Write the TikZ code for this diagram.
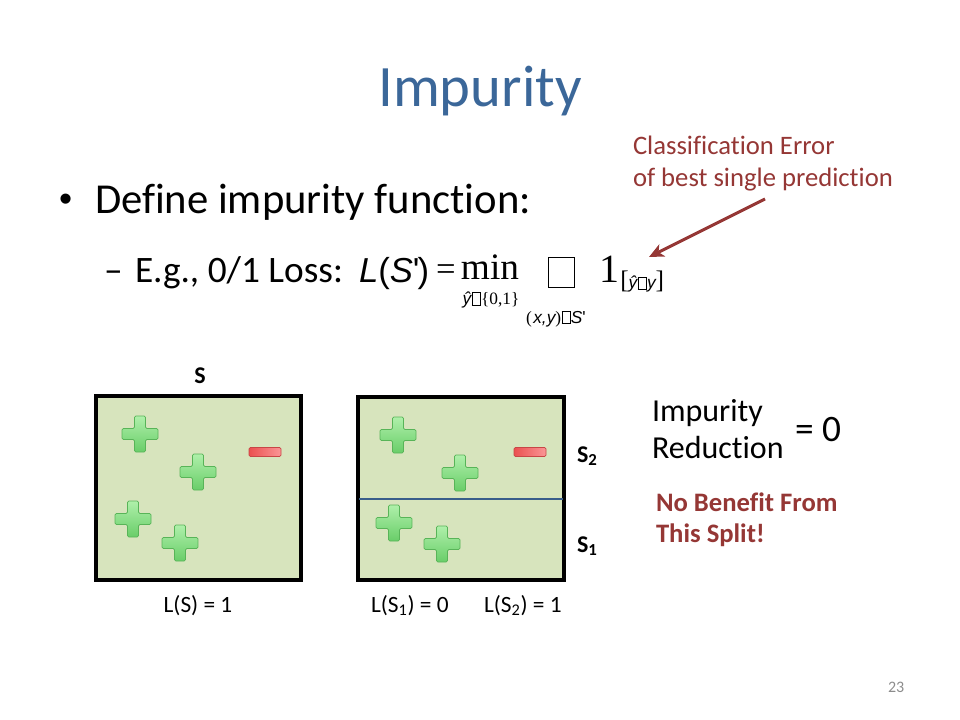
\documentclass[tikz,border=0pt]{standalone}
\usepackage{fontspec}
\setmainfont{Carlito}[Ligatures=NoCommon]
\newfontfamily\arialf{Liberation Sans}
\newfontfamily\timesf{Liberation Serif}
\usetikzlibrary{arrows.meta}
\newcommand\gbox{{\setlength\fboxsep{0pt}\setlength\fboxrule{0.4pt}\kern0.3pt\fbox{\rule{0pt}{0.68em}\hspace{0.45em}}\kern0.3pt}}
\definecolor{titleblue}{RGB}{59,103,153}
\definecolor{darkred}{RGB}{149,55,53}
\definecolor{boxfill}{RGB}{215,228,189}
\definecolor{splitblue}{RGB}{56,93,138}
\definecolor{plusedge}{RGB}{88,180,88}
\definecolor{pluslight}{RGB}{175,240,170}
\definecolor{plusdark}{RGB}{105,205,105}
\definecolor{minusedge}{RGB}{200,70,70}
\definecolor{minuslight}{RGB}{250,150,150}
\definecolor{minusdark}{RGB}{235,80,80}
\tikzset{
  txt/.style={inner sep=0pt, outer sep=0pt, anchor=base west},
  ctxt/.style={inner sep=0pt, outer sep=0pt, anchor=base},
  panel/.style={draw=black, line width=2.3pt, fill=boxfill},
  pluspic/.pic={
    \path[draw=plusedge, line width=0.6pt, top color=pluslight, bottom color=plusdark, rounded corners=1pt]
      (-5.5,-18) -- (5.5,-18) -- (5.5,-5.5) -- (18,-5.5) -- (18,5.5) -- (5.5,5.5) -- (5.5,18)
      -- (-5.5,18) -- (-5.5,5.5) -- (-18,5.5) -- (-18,-5.5) -- (-5.5,-5.5) -- cycle;
  },
  minuspic/.pic={
    \path[draw=minusedge, line width=0.6pt, left color=minusdark, right color=minuslight, rounded corners=1pt]
      (-16,-4.5) rectangle (16,4.5);
  }
}
\begin{document}
\begin{tikzpicture}[x=0.75pt,y=-0.75pt]
\useasboundingbox (0,0) rectangle (960,720);
% title
\node[ctxt, text=titleblue, font=\fontsize{44}{50}\selectfont] (title) at (480,107) {Impurity};
% bullets
\node[txt, font=\fontsize{28}{34}\selectfont] (bul) at (59,212) {\arialf •};
\node[txt, font=\fontsize{32}{38}\selectfont] (define) at (95,214) {Define impurity function:};
\node[txt, font=\fontsize{28}{34}\selectfont] (dash) at (104,282) {–};
\node[txt, font=\fontsize{28}{34}\selectfont] (eg) at (135,282) {E.g., 0/1 Loss:};
% formula
\node[txt, font=\fontsize{26}{30}\selectfont] (lhs) at (359,282)
  {\arialf\itshape L\upshape(\itshape S\upshape'\kern-1.5pt)};
\node[txt, font=\fontsize{26}{30}\selectfont] (eqs) at (436,281) {\timesf =};
\node[ctxt, font=\fontsize{28}{30}\selectfont] (min) at (490,280) {\timesf min};
\node[inner sep=0pt, font=\fontsize{13}{14}\selectfont] (minsub) at (491,300)
  {\arialf\itshape ŷ\upshape\gbox\timesf\{0,1\}};
\node[draw, line width=0.6pt, minimum width=20pt, minimum height=23pt, inner sep=0pt] (sumbox) at (561.5,272.5) {};
\node[inner sep=0pt, font=\fontsize{13}{14}\selectfont] (sumsub) at (556,319)
  {\timesf(\kern1pt\arialf\itshape x,y\upshape\timesf)\gbox\arialf\itshape S\upshape'};
\node[txt, font=\fontsize{30}{32}\selectfont] (one) at (599,282) {\timesf 1};
\node[inner sep=0pt, anchor=west, font=\fontsize{13}{16}\selectfont] (onesub) at (620,282)
  {{\timesf\fontsize{19}{20}\selectfont[}\arialf\itshape ŷ\upshape\gbox\itshape y\upshape{\timesf\fontsize{19}{20}\selectfont]}};
% annotation
\node[txt, text=darkred, font=\fontsize{20}{24}\selectfont] (ce1) at (633,155) {Classification Error};
\node[txt, text=darkred, font=\fontsize{20}{24}\selectfont] (ce2) at (633,187) {of best single prediction};
\coordinate (arrS) at (765,199);
\coordinate (arrE) at (649,257);
\draw[darkred, line width=2.3pt, -{Stealth[length=11pt,width=10pt,inset=3pt]}] (arrS) -- (arrE);
% left panel
\node[ctxt, font=\fontsize{18}{20}\selectfont\bfseries] (slab) at (200,383) {S};
\path[panel] (96,396) rectangle (301,580);
\pic at (140,434) {pluspic};
\pic at (198,472) {pluspic};
\pic at (133,519) {pluspic};
\pic at (180,543) {pluspic};
\pic at (265,452) {minuspic};
\node[ctxt, font=\fontsize{17.5}{20}\selectfont] (ls) at (198,612) {L(S) = 1};
% right panel
\path[panel] (358,397) rectangle (564,580);
\draw[splitblue, line width=2pt] (359,499) -- (563,499);
\pic at (398,435) {pluspic};
\pic at (460,473) {pluspic};
\pic at (394,523) {pluspic};
\pic at (442,544) {pluspic};
\pic at (530,452) {minuspic};
\node[txt, font=\fontsize{18}{20}\selectfont\bfseries] (s2) at (577,462) {S\textsubscript{2}};
\node[txt, font=\fontsize{18}{20}\selectfont\bfseries] (s1) at (577,552) {S\textsubscript{1}};
\node[txt, font=\fontsize{17.5}{20}\selectfont] (ls1) at (371,612) {L(S\textsubscript{1}) = 0};
\node[txt, font=\fontsize{17.5}{20}\selectfont] (ls2) at (484,612) {L(S\textsubscript{2}) = 1};
% impurity reduction
\node[txt, font=\fontsize{24}{28}\selectfont] (imp) at (652,421) {Impurity};
\node[txt, font=\fontsize{24}{28}\selectfont] (red) at (652,458) {Reduction};
\node[txt, font=\fontsize{28}{30}\selectfont] (eq0) at (795,441) {= 0};
\node[txt, text=darkred, font=\fontsize{20}{24}\selectfont\bfseries] (nb1) at (656,511) {No Benefit From};
\node[txt, text=darkred, font=\fontsize{20}{24}\selectfont\bfseries] (nb2) at (656,542) {This Split!};
% page number
\node[txt, text=black!45, font=\fontsize{12}{14}\selectfont] (pg) at (888,692) {23};
\end{tikzpicture}
\end{document}
